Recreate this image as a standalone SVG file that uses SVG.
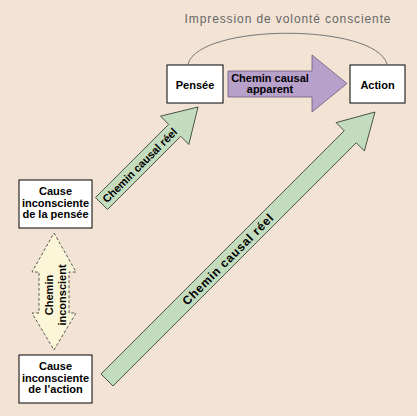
<svg xmlns="http://www.w3.org/2000/svg" width="417" height="416" viewBox="0 0 417 416">
<defs>
<style>
.box{fill:#ffffff;stroke:#000000;stroke-width:1}
.lbl{font-family:"Liberation Sans",Arial,sans-serif;font-weight:bold;font-size:11px;fill:#000000;text-anchor:middle}
.green{fill:#c3dcbd;stroke:#2e3a2e;stroke-width:0.8}
.purple{fill:#b7a1cb;stroke:#6a5a7a;stroke-width:0.8}
.dash{fill:#fcf6d9;stroke:#333333;stroke-width:0.8;stroke-dasharray:3,2}
.title{font-family:"Liberation Sans",Arial,sans-serif;font-size:12px;fill:#666666;text-anchor:middle;letter-spacing:0.9px}
</style>
</defs>
<rect width="417" height="416" fill="#f2e3d5"/>
<text class="title" x="288" y="23">Impression de volonté consciente</text>
<g id="connectors">
<path d="M188,64 C200,23 375,23 387,64" fill="none" stroke="#777777" stroke-width="1"/>
<g id="apparent">
<polygon class="purple" points="228,71 312,71 312,55 347,83.5 312,112 312,97 228,97"/>
<text class="lbl" x="270" y="82">Chemin causal</text>
<text class="lbl" x="270" y="93">apparent</text>
</g>
<g id="reel1" transform="translate(101.5,203.5) rotate(-45)">
<polygon class="green" points="0,-8.5 103.5,-8.5 103.5,-20 136.5,0 103.5,20 103.5,8.5 0,8.5"/>
<text class="lbl" x="54" y="4">Chemin causal réel</text>
</g>
<g id="reel2" transform="translate(107,380) rotate(-45)">
<polygon class="green" points="0,-8.5 344,-8.5 344,-20 379,0 344,20 344,8.5 0,8.5"/>
<text class="lbl" style="font-size:12px;letter-spacing:0.8px" x="171" y="4.3">Chemin causal réel</text>
</g>
<g id="inconscient">
<polygon class="dash" points="54,233 76,272 69,272 69,313 76,313 54,350 32,313 39,313 39,272 32,272"/>
<g transform="translate(53,295) rotate(-90)">
<text class="lbl" x="0" y="0">Chemin</text>
<text class="lbl" x="0" y="13">inconscient</text>
</g>
</g>
</g>
<g id="pensee">
<rect class="box" x="167" y="65" width="56" height="38"/>
<text class="lbl" x="195" y="89">Pensée</text>
</g>
<g id="action">
<rect class="box" x="350" y="65" width="55" height="38"/>
<text class="lbl" x="377.5" y="89">Action</text>
</g>
<g id="cause-pensee">
<rect class="box" x="19" y="180" width="73" height="48"/>
<text class="lbl" x="55.5" y="195">Cause</text>
<text class="lbl" x="55.5" y="206.5">inconsciente</text>
<text class="lbl" x="55.5" y="218">de la pensée</text>
</g>
<g id="cause-action">
<rect class="box" x="19" y="355" width="73" height="48"/>
<text class="lbl" x="55.5" y="370">Cause</text>
<text class="lbl" x="55.5" y="381.5">inconsciente</text>
<text class="lbl" x="55.5" y="393">de l’action</text>
</g>
</svg>
